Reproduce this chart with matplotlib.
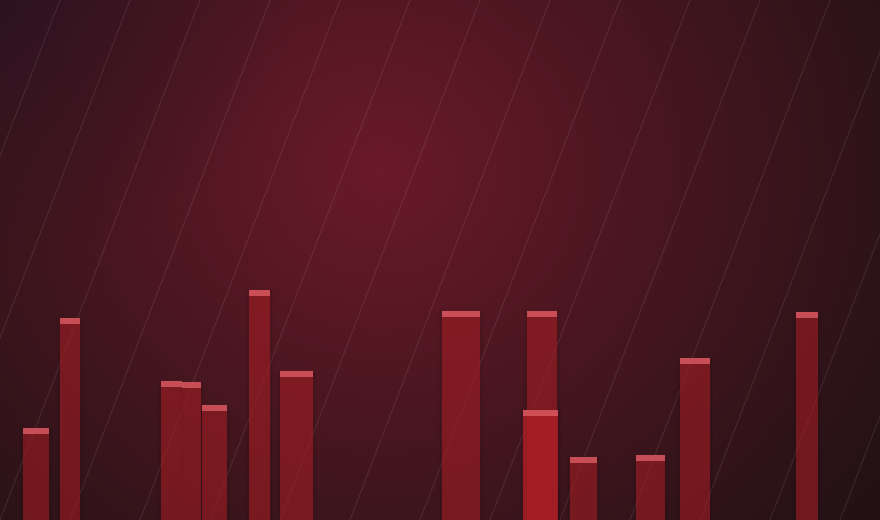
import numpy as np
import matplotlib
matplotlib.use("Agg")
import matplotlib.pyplot as plt

# ---- data ----
positions = [36, 70, 171.5, 191.5, 214.5, 259.5, 296.5, 461, 542, 540.5, 583.5, 650.5, 695, 807]
widths    = [26, 20, 21, 19, 25, 21, 33, 38, 30, 35, 27, 29, 30, 22]
values    = [17.7, 38.8, 26.7, 26.5, 22.1, 44.2, 28.7, 40.2, 40.2, 21.2, 12.1, 12.5, 31.2, 40.0]
front     = [False]*9 + [True] + [False]*4

W, H = 880, 520
fig = plt.figure(figsize=(8.8, 5.2), dpi=100)
ax = fig.add_axes([0, 0, 1, 1])
ax.set_xlim(0, W)
ax.set_ylim(0, 100)
ax.axis("off")

# background radial gradient
yy, xx = np.mgrid[0:H, 0:W]
cx, cy = 380, 170
d = np.sqrt(((xx - cx) / 600.0) ** 2 + ((yy - cy) / 560.0) ** 2)
d = np.clip(d, 0, 1)
center = np.array([106, 26, 40]) / 255
edge = np.array([34, 18, 22]) / 255
t = d ** 1.0
img = center[None, None, :] * (1 - t[..., None]) + edge[None, None, :] * t[..., None]
# purple tint top-left
tl = np.clip(1 - np.sqrt((xx / 300.0) ** 2 + (yy / 260.0) ** 2), 0, 1)
img = img * (1 - 0.5 * tl[..., None]) + (np.array([34, 18, 36]) / 255)[None, None, :] * 0.5 * tl[..., None]
ax.imshow(img, extent=[0, W, 0, 100], aspect="auto", zorder=0, origin="upper")

# diagonal faint lines
slope = 2.6
for x0 in np.arange(-300, W + 300, 70):
    xs = np.array([x0, x0 - H / slope])
    ys = np.array([100, 0])
    ax.plot(xs + 150, ys, color="white", alpha=0.09, lw=0.8, zorder=1)

# bars
cap_h = 1.15
for p, w, v, f in zip(positions, widths, values, front):
    for k, a in [(8, 0.05), (4, 0.08)]:
        ax.bar(p, v, width=w + k, color="#1a0a0c", alpha=a, zorder=2 + (3 if f else 0), linewidth=0)
    alpha = 0.82 if f else 0.55
    ax.bar(p, v, width=w, color="#b01f27", alpha=alpha, zorder=3 + (3 if f else 0), linewidth=0)
    ax.bar(p, cap_h, bottom=v - cap_h, width=w, color="#dc5c64", alpha=0.8,
           zorder=4 + (3 if f else 0), linewidth=0)

fig.savefig("out.png", dpi=100)
